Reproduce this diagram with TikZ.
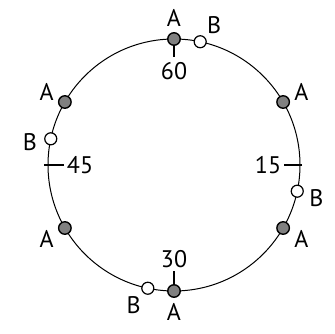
\documentclass[tikz,border=0pt]{standalone}
\usepackage{fontspec}
\setmainfont{PT Sans}
\usetikzlibrary{calc}

\begin{document}
\begin{tikzpicture}[x=1pt, y=1pt,
  amark/.style={circle, draw, line width=1.4pt, fill=black!50,
                inner sep=0pt, minimum size=12.5pt},
  bmark/.style={circle, draw, line width=1.2pt, fill=white,
                inner sep=0pt, minimum size=12pt},
  lbl/.style={font=\fontsize{24}{24}\selectfont, inner sep=0pt},
  tickline/.style={line width=2.4pt}]
\useasboundingbox (0,0) rectangle (335,334);
% Centre of the dial, radius 126pt
\coordinate (c) at (174,169);
\pgfmathsetmacro{\rr}{126}
\draw[line width=1pt] (c) circle (126pt);
% Quarter ticks: 60 top, 15 right, 30 bottom, 45 left
\foreach \ang/\val/\out/\in in {90/60/126/108, 0/15/128/110,
                                 -90/30/126/106, 180/45/130/110} {
  \coordinate (to\val) at ($(c)+(\ang:\out)$);
  \coordinate (ti\val) at ($(c)+(\ang:\in)$);
  \draw[tickline] (to\val) -- (ti\val);
  \node[lbl] (n\val) at ($(c)+(\ang:94)$) {\val};
}
% Markers A, every 60 degrees
\foreach \ang [count=\i] in {90, 30, -30, -90, -150, 150} {
  \node[amark] (a\i) at ($(c)+(\ang:\rr)$) {};
  \node[lbl] (la\i) at ($(c)+(\ang:147)$) {A};
}
% Markers B, a bit clockwise of each quarter
\foreach \ang/\lang [count=\i] in {78/74, -12/-13, -102/-106, 168/171} {
  \node[bmark] (b\i) at ($(c)+(\ang:\rr)$) {};
  \node[lbl] (lb\i) at ($(c)+(\lang:146)$) {B};
}
\end{tikzpicture}
\end{document}
